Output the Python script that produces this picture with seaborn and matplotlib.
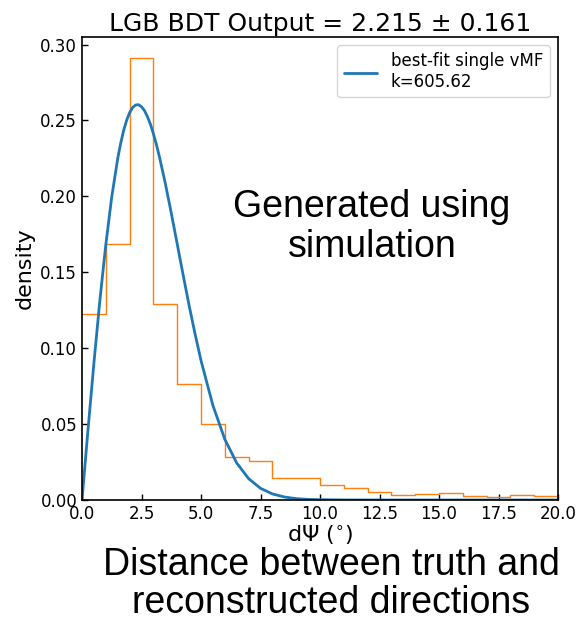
import numpy as np
import pandas as pd
import matplotlib
matplotlib.use("Agg")
import matplotlib.pyplot as plt
import seaborn as sns

# Histogram (density per 1 degree bin)
bin_edges = list(range(0, 21))
hist_heights = [0.1226, 0.1688, 0.2910, 0.1290, 0.0767, 0.0500, 0.0285, 0.0260,
                0.0146, 0.0146, 0.0099, 0.0077, 0.0053, 0.0035, 0.0040, 0.0048,
                0.0024, 0.0018, 0.0033, 0.0024]

# best-fit single vMF curve
curve_x = [0, 0.25, 0.5, 0.75, 1.0, 1.25, 1.5, 1.625, 1.75, 1.875, 2.0, 2.125, 2.25,
           2.375, 2.5, 2.625, 2.75, 2.875, 3.0, 3.125, 3.25, 3.5, 3.75, 4.0, 4.25,
           4.5, 4.75, 5.0, 5.5, 6.0, 6.5, 7.0, 7.5, 8.0, 8.5, 9.0, 9.5, 10.0, 11.0,
           12.0, 14.0, 16.0, 18.0, 20.0]
curve_y = [0.0, 0.0459, 0.0901, 0.1314, 0.1682, 0.1997, 0.2249, 0.2350, 0.2434,
           0.2501, 0.2551, 0.2585, 0.2602, 0.2604, 0.2591, 0.2565, 0.2525, 0.2475,
           0.2413, 0.2342, 0.2263, 0.2086, 0.1891, 0.1687, 0.1482, 0.1282, 0.1094,
           0.0919, 0.0623, 0.0400, 0.0244, 0.0141, 0.0077, 0.0040, 0.0020, 0.0009,
           0.0004, 0.0002, 0.00003, 0.0, 0.0, 0.0, 0.0, 0.0]

title = "LGB BDT Output = 2.215 ± 0.161"
legend_label = "best-fit single vMF\nk=605.62"
x_ticks = [0.0, 2.5, 5.0, 7.5, 10.0, 12.5, 15.0, 17.5, 20.0]
y_ticks = [0.00, 0.05, 0.10, 0.15, 0.20, 0.25, 0.30]

sns.set_style("white")
plt.rcParams['font.family'] = ['DejaVu Sans']
plt.rcParams['text.color'] = 'black'
plt.rcParams['axes.labelcolor'] = 'black'
plt.rcParams['xtick.color'] = 'black'
plt.rcParams['ytick.color'] = 'black'

fig = plt.figure(figsize=(5.77, 6.19), dpi=100)
ax = fig.add_axes([82/577, 1-500/619, (558-82)/577, (500-37)/619])

centers = [(a + b) / 2 for a, b in zip(bin_edges[:-1], bin_edges[1:])]
hist_df = pd.DataFrame({"x": centers, "w": hist_heights})
sns.histplot(data=hist_df, x="x", weights="w", bins=bin_edges, element="step",
             fill=False, color="#ff7f0e", linewidth=1.0, ax=ax)

curve_df = pd.DataFrame({"x": curve_x, "y": curve_y})
sns.lineplot(data=curve_df, x="x", y="y", sort=False, estimator=None,
             color="#1f77b4", linewidth=2.0, label=legend_label, ax=ax)

ax.set_xlim(0, 20)
ax.set_ylim(0, 0.305)
ax.set_xticks(x_ticks)
ax.set_yticks(y_ticks)
ax.set_xticklabels([f"{t:.1f}" for t in x_ticks])
ax.set_yticklabels([f"{t:.2f}" for t in y_ticks])
ax.tick_params(direction="in", length=4, width=1, labelsize=12, colors="black",
               bottom=True, left=True, top=False, right=False)
for s in ax.spines.values():
    s.set_color("black")
    s.set_linewidth(1.2)

ax.set_title(title, fontsize=18, pad=4, color="black")
ax.set_xlabel(r"d$\Psi$ ($^{\circ}$)", fontsize=16, labelpad=0, color="black")
ax.set_ylabel("density", fontsize=16, color="black")

leg = ax.legend(loc="upper right", fontsize=12, frameon=True)
for t in leg.get_texts():
    t.set_color("black")

fig.text(372/577, 1-227/619, "Generated using\nsimulation", ha="center", va="center",
         fontsize=27, family="Liberation Sans", linespacing=1.12, multialignment="center",
         color="black")
fig.text(331/577, 1-584/619, "Distance between truth and\nreconstructed directions",
         ha="center", va="center", fontsize=27, family="Liberation Sans",
         linespacing=1.07, multialignment="center", color="black")

fig.savefig("out.png", dpi=100)
